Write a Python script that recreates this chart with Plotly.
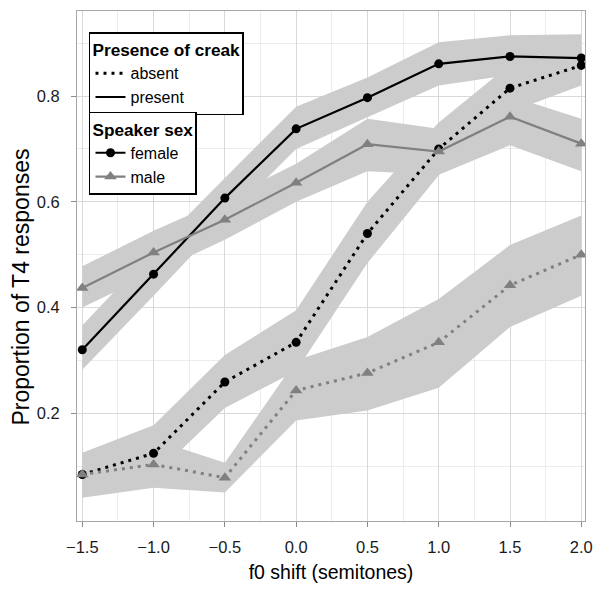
import plotly.graph_objects as go

# ---- data ----
f0_shift = [-1.5, -1.0, -0.5, 0.0, 0.5, 1.0, 1.5, 2.0]

female_present = [0.320, 0.463, 0.607, 0.738, 0.797, 0.861, 0.875, 0.872]
female_present_lo = [0.282, 0.422, 0.565, 0.700, 0.760, 0.820, 0.840, 0.830]
female_present_hi = [0.366, 0.509, 0.645, 0.780, 0.835, 0.902, 0.915, 0.917]

male_present = [0.437, 0.504, 0.566, 0.636, 0.709, 0.695, 0.761, 0.710]
male_present_lo = [0.400, 0.465, 0.528, 0.600, 0.658, 0.651, 0.707, 0.658]
male_present_hi = [0.478, 0.545, 0.605, 0.672, 0.757, 0.738, 0.800, 0.757]

female_absent = [0.084, 0.124, 0.259, 0.334, 0.540, 0.700, 0.815, 0.858]
female_absent_lo = [0.050, 0.080, 0.210, 0.280, 0.484, 0.650, 0.770, 0.820]
female_absent_hi = [0.125, 0.177, 0.310, 0.395, 0.600, 0.750, 0.860, 0.895]

male_absent = [0.084, 0.103, 0.078, 0.243, 0.276, 0.334, 0.442, 0.500]
male_absent_lo = [0.040, 0.059, 0.050, 0.186, 0.205, 0.248, 0.363, 0.422]
male_absent_hi = [0.125, 0.150, 0.106, 0.300, 0.344, 0.416, 0.518, 0.574]

x_ticks = [-1.5, -1.0, -0.5, 0.0, 0.5, 1.0, 1.5, 2.0]
x_minor = [-1.25, -0.75, -0.25, 0.25, 0.75, 1.25, 1.75]
y_ticks = [0.2, 0.4, 0.6, 0.8]
y_minor = [0.1, 0.3, 0.5, 0.7, 0.9]

x_title = "f0 shift (semitones)"
y_title = "Proportion of T4 responses"

BLACK = "#000000"
GREY = "#808080"
RIBBON = "#cccccc"
FONT = "Liberation Sans"

series = [
    (female_absent, female_absent_lo, female_absent_hi, BLACK, "circle", 9, "3px,5px"),
    (male_absent, male_absent_lo, male_absent_hi, GREY, "triangle-up", 11, "3px,5px"),
    (female_present, female_present_lo, female_present_hi, BLACK, "circle", 9, "solid"),
    (male_present, male_present_lo, male_present_hi, GREY, "triangle-up", 11, "solid"),
]

fig = go.Figure()

# ribbons first
for y, lo, hi, col, sym, sz, dash in series:
    fig.add_trace(go.Scatter(
        x=f0_shift + f0_shift[::-1], y=hi + lo[::-1],
        fill="toself", fillcolor=RIBBON, line=dict(width=0),
        mode="lines", hoverinfo="skip", showlegend=False))

# lines + points
for y, lo, hi, col, sym, sz, dash in series:
    lw = 3 if dash != "solid" else 2.2
    fig.add_trace(go.Scatter(
        x=f0_shift, y=y, mode="lines+markers",
        line=dict(color=col, width=lw, dash=dash),
        marker=dict(color=col, symbol=sym, size=sz, line=dict(width=0)),
        showlegend=False))

# legend entries
fig.add_trace(go.Scatter(x=[None], y=[None], mode="lines", name="absent",
                         line=dict(color=BLACK, width=3, dash="3px,5px"), legend="legend"))
fig.add_trace(go.Scatter(x=[None], y=[None], mode="lines", name="present",
                         line=dict(color=BLACK, width=2.2), legend="legend"))
fig.add_trace(go.Scatter(x=[None], y=[None], mode="lines+markers", name="female",
                         line=dict(color=BLACK, width=2.2),
                         marker=dict(color=BLACK, symbol="circle", size=9), legend="legend2"))
fig.add_trace(go.Scatter(x=[None], y=[None], mode="lines+markers", name="male",
                         line=dict(color=GREY, width=2.2),
                         marker=dict(color=GREY, symbol="triangle-up", size=11), legend="legend2"))

legend_common = dict(
    bgcolor="white", bordercolor="black", borderwidth=1.5,
    font=dict(family=FONT, size=16, color="black"),
    itemwidth=30, xanchor="left", yanchor="top", tracegroupgap=0,
)

fig.update_layout(
    width=603, height=589,
    margin=dict(l=77, r=17, t=10, b=60),
    paper_bgcolor="white", plot_bgcolor="white",
    font=dict(family=FONT, size=16, color="black"),
    legend=dict(title=dict(text="<b>Presence of creak</b>", font=dict(family=FONT, size=17.2)),
                x=0.0236, y=0.958, **legend_common),
    legend2=dict(title=dict(text="<b>Speaker sex</b>", font=dict(family=FONT, size=17.2)),
                 x=0.0236, y=0.802, **legend_common),
    annotations=[dict(
        text=y_title, textangle=-90, xref="paper", yref="paper",
        x=-0.110, y=0.458, xanchor="center", yanchor="middle", showarrow=False,
        font=dict(family=FONT, size=23, color="black"))],
)

fig.update_xaxes(
    range=[-1.537, 2.026], tickvals=x_ticks, tickformat=".1f",
    ticks="outside", ticklen=5, tickcolor="#8c8c8c", tickwidth=1,
    showgrid=True, gridcolor="#d9d9d9", gridwidth=1,
    minor=dict(tickvals=x_minor, showgrid=True, gridcolor="#ececec", gridwidth=1),
    showline=True, linecolor="#a6a6a6", linewidth=1, mirror=True,
    zeroline=False, tickfont=dict(family=FONT, size=16.5, color="#1a1a1a"),
    ticklabelstandoff=6,
    title=dict(text=x_title, font=dict(family=FONT, size=19.5, color="black"), standoff=10),
)
fig.update_yaxes(
    range=[-0.004, 0.961], tickvals=y_ticks, tickformat=".1f",
    ticks="outside", ticklen=5, tickcolor="#8c8c8c", tickwidth=1,
    showgrid=True, gridcolor="#d9d9d9", gridwidth=1,
    minor=dict(tickvals=y_minor, showgrid=True, gridcolor="#ececec", gridwidth=1),
    showline=True, linecolor="#a6a6a6", linewidth=1, mirror=True,
    zeroline=False, tickfont=dict(family=FONT, size=16.5, color="#1a1a1a"),
    ticklabelstandoff=8,
)

fig.write_html("out.html")
